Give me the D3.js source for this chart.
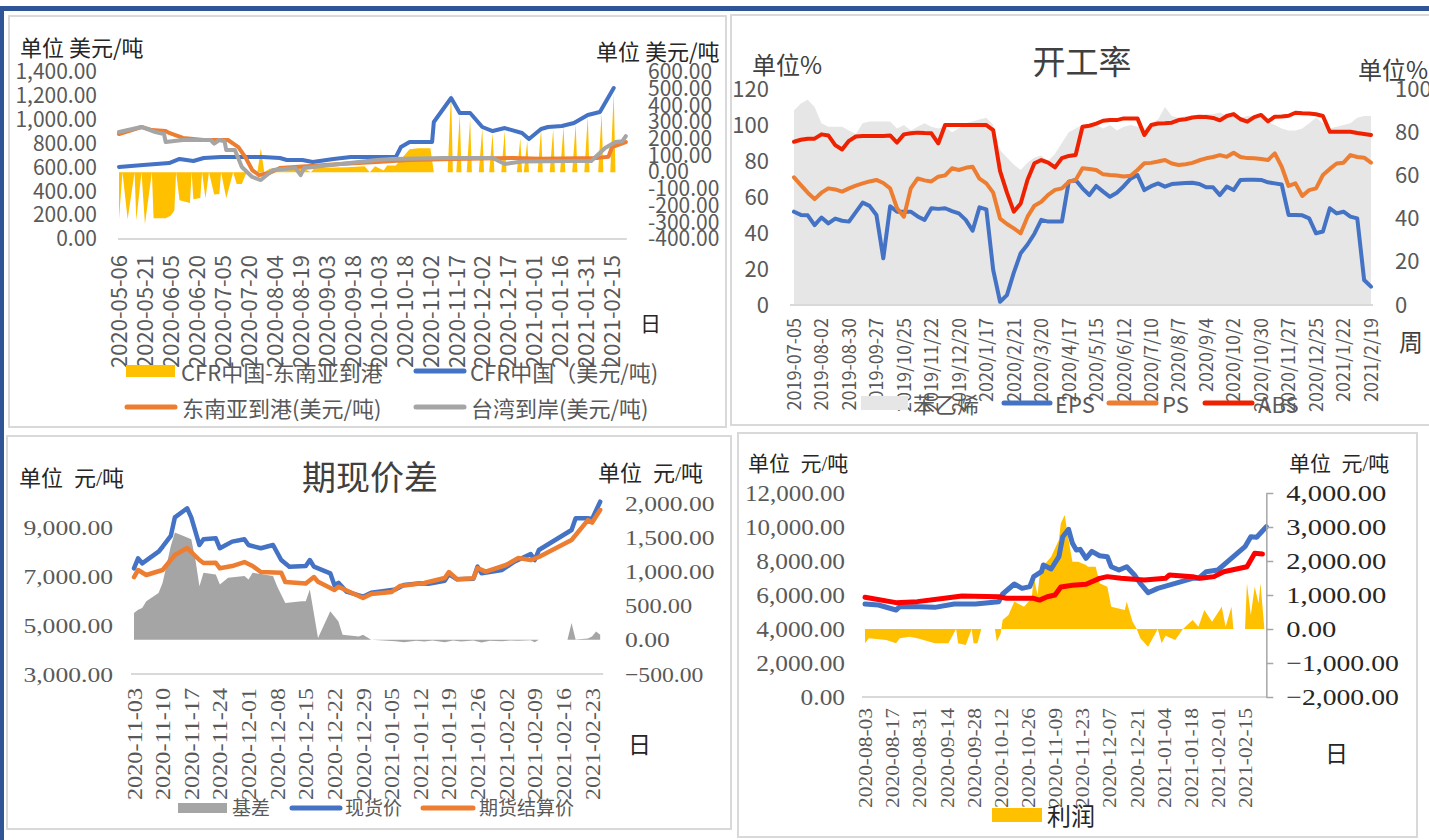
<!DOCTYPE html>
<html lang="zh">
<head>
<meta charset="utf-8">
<title>苯乙烯市场</title>
<script src="https://cdn.jsdelivr.net/npm/d3@7/dist/d3.min.js"></script>
<style>
  html, body { margin: 0; background: #fff; }
  svg { display: block; }
</style>
</head>
<body>
<svg id="chart" width="1429" height="840"></svg>
<script>
// ---------- panel 1: 美元价格 ----------
const usdTickDates = ["2020-05-06","2020-05-21","2020-06-05","2020-06-20","2020-07-05","2020-07-20","2020-08-04","2020-08-19","2020-09-03","2020-09-18","2020-10-03","2020-10-18","2020-11-02","2020-11-17","2020-12-02","2020-12-17","2021-01-01","2021-01-16","2021-01-31","2021-02-15"];
const usdLeftTicks = [0, 200, 400, 600, 800, 1000, 1200, 1400];
const usdRightTicks = [-400, -300, -200, -100, 0, 100, 200, 300, 400, 500, 600];

const cfrChina = [["2020-05-06",604],["2020-05-20",620],["2020-06-04",637],["2020-06-10",671],["2020-06-18",654],["2020-06-24",679],["2020-07-04",687],["2020-07-14",687],["2020-07-28",687],["2020-08-07",679],["2020-08-11",662],["2020-08-20",662],["2020-08-26",645],["2020-09-07",671],["2020-09-17",687],["2020-10-02",687],["2020-10-13",687],["2020-10-16",771],["2020-10-21",813],["2020-11-03",813],["2020-11-04",981],["2020-11-14",1182],["2020-11-19",1056],["2020-11-25",1056],["2020-12-02",939],["2020-12-08",905],["2020-12-15",930],["2020-12-25",889],["2020-12-29",838],["2021-01-05",922],["2021-01-09",939],["2021-01-17",947],["2021-01-24",972],["2021-02-01",1039],["2021-02-08",1065],["2021-02-16",1266]];
const seaPort = [["2020-05-06",880],["2020-05-19",939],["2020-05-25",913],["2020-06-02",905],["2020-06-04",889],["2020-06-12",847],["2020-06-24",830],["2020-07-08",830],["2020-07-14",771],["2020-07-18",687],["2020-07-22",578],["2020-07-26",536],["2020-08-01",553],["2020-08-07",595],["2020-09-11",629],["2020-10-02",645],["2020-10-21",662],["2020-11-15",670],["2020-12-20",680],["2021-01-05",672],["2021-02-07",680],["2021-02-13",690],["2021-02-15",771],["2021-02-23",813]];
const taiwanCif = [["2020-05-06",897],["2020-05-19",939],["2020-05-27",897],["2020-06-01",880],["2020-06-02",813],["2020-06-12",830],["2020-06-28",830],["2020-06-30",800],["2020-07-03",830],["2020-07-06",820],["2020-07-07",746],["2020-07-12",746],["2020-07-16",604],["2020-07-22",520],["2020-07-27",494],["2020-08-03",578],["2020-08-16",595],["2020-08-19",536],["2020-08-21",595],["2020-09-11",629],["2020-10-02",662],["2020-10-11",670],["2020-11-10",679],["2020-12-08",679],["2020-12-15",629],["2020-12-25",650],["2021-01-20",654],["2021-02-03",654],["2021-02-11",763],["2021-02-17",813],["2021-02-21",820],["2021-02-23",863]];
const cfrSpread = [["2020-05-06",-281],["2020-05-08",0],["2020-05-11",-281],["2020-05-15",0],["2020-05-16",-288],["2020-05-19",0],["2020-05-21",-311],["2020-05-25",0],["2020-05-26",-275],["2020-06-02",-275],["2020-06-05",-260],["2020-06-07",-230],["2020-06-08",0],["2020-06-10",-168],["2020-06-16",-184],["2020-06-17",0],["2020-06-18",-162],["2020-06-22",-154],["2020-06-23",0],["2020-06-25",-158],["2020-06-27",0],["2020-06-30",-134],["2020-07-03",-130],["2020-07-04",0],["2020-07-07",-156],["2020-07-11",0],["2020-07-13",-70],["2020-07-16",-70],["2020-07-18",-20],["2020-07-19",0],
  ["2020-07-25",0],["2020-07-27",144],["2020-07-29",0],["2020-08-01",20],["2020-08-10",30],["2020-08-20",25],["2020-08-25",0],["2020-08-27",25],["2020-09-15",30],["2020-09-25",35],["2020-09-28",0],["2020-10-01",35],["2020-10-06",10],["2020-10-08",40],["2020-10-13",40],["2020-10-16",78],["2020-10-21",138],["2020-10-26",144],["2020-11-02",144],["2020-11-04",0],
  ["2020-11-12",0],["2020-11-14",485],["2020-11-15",0],["2020-11-17",0],["2020-11-19",347],["2020-11-20",0],["2020-11-23",0],["2020-11-25",317],["2020-11-26",0],["2020-11-30",0],["2020-12-02",263],["2020-12-03",0],["2020-12-06",0],["2020-12-08",234],["2020-12-09",0],["2020-12-13",0],["2020-12-15",246],["2020-12-16",0],["2020-12-22",0],["2020-12-24",204],["2020-12-25",0],["2020-12-26",0],["2020-12-28",186],["2020-12-29",0],["2021-01-03",0],["2021-01-05",257],["2021-01-06",0],["2021-01-10",0],["2021-01-12",257],["2021-01-13",0],["2021-01-16",0],["2021-01-18",275],["2021-01-19",0],["2021-01-23",0],["2021-01-25",287],["2021-01-26",0],["2021-01-30",0],["2021-02-01",335],["2021-02-02",0],["2021-02-07",0],["2021-02-09",353],["2021-02-10",0],["2021-02-14",0],["2021-02-16",473],["2021-02-17",0]];

// ---------- panel 2: 开工率 (weekly) ----------
const rateTickLabels = ["2019-07-05","2019-08-02","2019-08-30","2019-09-27","2019/10/25","2019/11/22","2019/12/20","2020/1/17","2020/2/21","2020/3/20","2020/4/17","2020/5/15","2020/6/12","2020/7/10","2020/8/7","2020/9/4","2020/10/2","2020/10/30","2020/11/27","2020/12/25","2021/1/22","2021/2/19"];
const rateLeftTicks = [0, 20, 40, 60, 80, 100, 120];
const rateRightTicks = [0, 20, 40, 60, 80, 100];
const styreneRate = [108,112,114,110,101,99,99,99,97,95, 101,102,102,102,102,98,100,97,99,101, 99,98,99,96,98,101,102,103,104,100, 86,82,78,75,79,82,83,80,84,90, 96,98,100,99,100,98,100,97,99,100, 99,98,101,103,110,105,104,105,104,105, 106,106,107,105,106,104,105,105,104,102, 100,98,97,97,98,101,104,101,98,99, 100,101,104,105,105];
const epsRate = [43.2,41.7,41.5,37,40.5,37.8,40,39,38.6,43, 47.4,45.9,41.7,21.6,45.7,43.2,43.2,43.2,41,39.4, 44.8,44.5,44.8,43.5,42.4,39.4,34.4,45.2,44.3,16.2, 1.5,4.6,15,24,28,33,39.4,38.6,38.6,38.6, 57.1,57.9,54,50.9,55.1,52.5,50.1,52,55,58.5, 60.2,53.2,55,56.3,54.8,56,56.3,56.5,56.6,56, 54.5,54.5,50.9,54.8,53.2,57.9,58,58,57.9,56.8, 56.3,55.8,41.7,41.7,41.5,40.1,33.2,34,44.8,42.4, 43.2,40.9,40.1,11.6,8.5];
const psRate = [59.1,55.5,52,49,52,54,53.5,52.5,54,55.3, 56.3,57.2,57.9,56.5,54,44.8,40.9,54,58.6,57.7, 57.2,59.4,60,63.3,62.5,63.5,64,58.5,56.3,52, 40,37.5,35.5,33.2,40.9,46,47.8,51,53.3,54, 57,57.9,63.3,63,62.5,60.5,60.2,60,59.5,59.8, 62.5,65.6,65.8,66.4,67.1,65.5,64.8,65.2,65.8,67, 67.9,68.5,69.4,68.6,70.5,68.5,68,67.9,67.6,67.1, 70.2,64,55.1,56.3,50.5,53.2,54,60.2,63,65.5, 65.9,69.4,68.5,68.2,65.9];
const absRate = [75.6,76.5,77,77,79,78.5,74,72,76,78, 78.2,78.2,78.2,78.2,78.5,75.2,79,79.5,79.8,79.6, 79.5,74.8,83.3,83.3,83.3,83.3,83.3,83.3,83.3,81, 62,52,43.2,47,58,65.6,67.1,65.9,63.7,68, 69,69.4,82.5,83,84,85.3,85.6,85.6,86.4,86.4, 86.4,78.7,83.3,84,84.1,84.4,85.6,86,86.8,87.2, 87,86.6,85.5,87.5,88.4,86,84.9,87,88,85, 87.2,87.3,87.6,89,88.8,88.7,88.3,87.5,80.2,80.2, 80.2,80.2,79.6,79.2,78.7];

// ---------- panel 3: 期现价差 ----------
const basisTickDates = ["2020-11-03","2020-11-10","2020-11-17","2020-11-24","2020-12-01","2020-12-08","2020-12-15","2020-12-22","2020-12-29","2021-01-05","2021-01-12","2021-01-19","2021-01-26","2021-02-02","2021-02-09","2021-02-16","2021-02-23"];
const basisLeftTicks = [3000, 5000, 7000, 9000];
const basisRightTicks = [-500, 0, 500, 1000, 1500, 2000];
const spotPrice = [["2020-11-03",7327],["2020-11-04",7736],["2020-11-05",7532],["2020-11-09",8006],["2020-11-10",8211],["2020-11-12",8650],["2020-11-13",9414],["2020-11-16",9783],["2020-11-17",9414],["2020-11-19",8280],["2020-11-20",8514],["2020-11-23",8555],["2020-11-24",8146],["2020-11-27",8418],["2020-11-30",8514],["2020-12-01",8280],["2020-12-04",8146],["2020-12-07",8280],["2020-12-09",7666],["2020-12-11",7393],["2020-12-15",7420],["2020-12-16",7666],["2020-12-17",7393],["2020-12-21",7120],["2020-12-22",6643],["2020-12-23",6730],["2020-12-25",6370],["2020-12-29",6165],["2020-12-31",6330],["2021-01-06",6465],["2021-01-08",6643],["2021-01-12",6711],["2021-01-14",6690],["2021-01-18",6820],["2021-01-19",7093],["2021-01-21",6875],["2021-01-25",6900],["2021-01-26",7393],["2021-01-27",7120],["2021-02-01",7257],["2021-02-04",7597],["2021-02-08",7912],["2021-02-09",7666],["2021-02-10",8075],["2021-02-18",8894],["2021-02-19",9373],["2021-02-22",9373],["2021-02-23",9340],["2021-02-25",10053]];
const futuresPrice = [["2020-11-03",6970],["2020-11-04",7257],["2020-11-06",7052],["2020-11-10",7257],["2020-11-11",7462],["2020-11-13",7871],["2020-11-16",8157],["2020-11-19",7666],["2020-11-20",7543],["2020-11-23",7556],["2020-11-24",7327],["2020-11-27",7420],["2020-11-30",7584],["2020-12-02",7420],["2020-12-04",7175],["2020-12-09",7147],["2020-12-10",6766],["2020-12-15",6700],["2020-12-17",6970],["2020-12-18",6779],["2020-12-22",6438],["2020-12-23",6575],["2020-12-29",6111],["2020-12-31",6275],["2021-01-05",6357],["2021-01-07",6602],["2021-01-11",6684],["2021-01-13",6725],["2021-01-18",6930],["2021-01-19",7175],["2021-01-21",6880],["2021-01-25",6916],["2021-01-26",7339],["2021-01-28",7191],["2021-02-02",7462],["2021-02-05",7748],["2021-02-08",7666],["2021-02-10",7790],["2021-02-18",8485],["2021-02-22",9300],["2021-02-23",9195],["2021-02-25",9713]];
const basis = [["2020-11-03",392],["2020-11-04",441],["2020-11-05",466],["2020-11-06",564],["2020-11-09",686],["2020-11-10",833],["2020-11-12",1372],["2020-11-13",1569],["2020-11-16",1495],["2020-11-17",1470],["2020-11-18",1176],["2020-11-19",784],["2020-11-20",980],["2020-11-23",956],["2020-11-24",809],["2020-11-26",907],["2020-11-30",931],["2020-12-01",882],["2020-12-02",980],["2020-12-07",931],["2020-12-08",784],["2020-12-10",539],["2020-12-14",564],["2020-12-15",564],["2020-12-16",735],["2020-12-18",25],["2020-12-21",416],["2020-12-23",269],["2020-12-24",74],["2020-12-28",49],["2020-12-29",74],["2020-12-31",0],["2021-01-04",-15],["2021-01-06",-20],["2021-01-08",-35],["2021-01-11",-15],["2021-01-13",-25],["2021-01-15",-10],["2021-01-18",-35],["2021-01-20",-10],["2021-01-22",-25],["2021-01-25",-10],["2021-01-27",-40],["2021-01-29",-15],["2021-02-01",-20],["2021-02-03",-10],["2021-02-05",-15],["2021-02-08",-5],["2021-02-09",-35],["2021-02-10",0],["2021-02-17",0],["2021-02-18",245],["2021-02-19",5],["2021-02-22",20],["2021-02-23",49],["2021-02-24",123],["2021-02-25",74]];

// ---------- panel 4: 利润 ----------
const profitTickDates = ["2020-08-03","2020-08-17","2020-08-31","2020-09-14","2020-09-28","2020-10-12","2020-10-26","2020-11-09","2020-11-23","2020-12-07","2020-12-21","2021-01-04","2021-01-18","2021-02-01","2021-02-15"];
const profitLeftTicks = [0, 2000, 4000, 6000, 8000, 10000, 12000];
const profitRightTicks = [-2000, -1000, 0, 1000, 2000, 3000, 4000];
const productPrice = [["2020-08-03",5470],["2020-08-10",5412],["2020-08-19",5117],["2020-08-21",5314],["2020-08-31",5314],["2020-09-08",5274],["2020-09-18",5470],["2020-09-29",5470],["2020-10-11",5606],["2020-10-13",6059],["2020-10-19",6647],["2020-10-23",6391],["2020-10-27",6490],["2020-10-29",7076],["2020-11-02",7370],["2020-11-03",7764],["2020-11-07",7529],["2020-11-11",8253],["2020-11-13",9430],["2020-11-16",9864],["2020-11-18",9040],["2020-11-20",8645],["2020-11-22",8684],["2020-11-25",8160],["2020-11-28",8566],["2020-12-02",8311],["2020-12-06",8253],["2020-12-08",7664],["2020-12-12",7468],["2020-12-16",7664],["2020-12-20",7176],["2020-12-23",6686],["2020-12-27",6137],["2021-01-01",6391],["2021-01-10",6686],["2021-01-19",6980],["2021-01-22",6980],["2021-01-26",7370],["2021-02-01",7470],["2021-02-06",7960],["2021-02-15",8842],["2021-02-18",9430],["2021-02-21",9400],["2021-02-26",10017]];
const costPrice = [["2020-08-03",5864],["2020-08-19",5550],["2020-08-30",5610],["2020-09-13",5805],["2020-09-22",5940],["2020-10-11",5900],["2020-10-15",5805],["2020-10-29",5805],["2020-11-01",5700],["2020-11-05",5900],["2020-11-09",6000],["2020-11-12",6470],["2020-11-18",6570],["2020-11-25",6630],["2020-12-02",6980],["2020-12-06",7080],["2020-12-13",6980],["2020-12-25",6880],["2021-01-05",6980],["2021-01-07",7175],["2021-01-19",7080],["2021-01-23",6980],["2021-01-30",7080],["2021-02-04",7370],["2021-02-16",7664],["2021-02-20",8450],["2021-02-24",8410]];
const profit = [["2020-08-03",-421],["2020-08-05",-275],["2020-08-14",-323],["2020-08-19",-421],["2020-08-21",-275],["2020-08-26",-225],["2020-08-30",-275],["2020-09-08",-421],["2020-09-15",-421],["2020-09-19",0],["2020-09-20",-421],["2020-09-24",-470],["2020-09-27",0],["2020-09-28",-421],["2020-09-30",-421],["2020-10-02",0],["2020-10-09",0],["2020-10-10",-373],["2020-10-12",-129],["2020-10-13",265],["2020-10-16",412],["2020-10-19",804],["2020-10-24",657],["2020-10-28",902],["2020-10-29",1539],["2020-10-31",1000],["2020-11-01",1539],["2020-11-02",1784],["2020-11-07",2127],["2020-11-11",2617],["2020-11-12",3108],["2020-11-14",3353],["2020-11-16",2617],["2020-11-18",1980],["2020-11-21",1980],["2020-11-25",1882],["2020-11-26",1833],["2020-11-30",1833],["2020-12-02",1343],["2020-12-06",1245],["2020-12-08",657],["2020-12-15",559],["2020-12-16",804],["2020-12-19",216],["2020-12-21",20],["2020-12-23",-275],["2020-12-27",-520],["2021-01-01",0],["2021-01-03",-421],["2021-01-05",-200],["2021-01-10",-323],["2021-01-14",0],["2021-01-19",265],["2021-01-22",69],["2021-01-25",559],["2021-01-29",216],["2021-02-03",657],["2021-02-05",69],["2021-02-08",657],["2021-02-09",0],["2021-02-15",0],["2021-02-16",1343],["2021-02-18",412],["2021-02-20",1245],["2021-02-22",755],["2021-02-23",1343],["2021-02-25",0]];

// ---------- helpers ----------
const svg = d3.select('#chart');
const parse = d3.timeParse('%Y-%m-%d');
const pts = arr => arr.map(([d, v]) => ({ date: parse(d), v }));
const SANS = '"Noto Sans CJK SC", "Noto Sans", sans-serif';
const SERIF = '"Liberation Serif", "Noto Sans CJK SC", serif';
const TICK = '#595959';
const fmtDate = d3.timeFormat('%Y-%m-%d');
const fmtUsd = d3.formatLocale({ decimal: '.', thousands: ',', grouping: [3], currency: ['', ''], minus: '-' }).format(',.2f');
const fmtCny = d3.format(',.2f');

function cleanAxis(g, size, family, color) {
  g.select('.domain').remove();
  g.attr('font-size', size).attr('font-family', family);
  g.selectAll('text').attr('fill', color);
}
function rotateLabels(g) {
  g.selectAll('text').attr('transform', 'rotate(-90)').attr('text-anchor', 'end')
    .attr('x', 0).attr('y', 0).attr('dy', '0.35em');
}
function fitChars(g, perChar) {
  g.selectAll('text').each(function () {
    const t = d3.select(this);
    t.attr('textLength', t.text().length * perChar).attr('lengthAdjust', 'spacingAndGlyphs');
  });
}
function yAxis(gen, scale, ticks, fmt, xPos, size, family) {
  return svg.append('g').attr('transform', `translate(${xPos},0)`)
    .call(gen(scale).tickValues(ticks).tickFormat(fmt).tickSize(0).tickPadding(0))
    .call(cleanAxis, size, family, TICK);
}
function xAxis(scale, ticks, fmt, yPos, size, family) {
  return svg.append('g').attr('transform', `translate(0,${yPos})`)
    .call(d3.axisBottom(scale).tickValues(ticks).tickFormat(fmt).tickSize(0))
    .call(cleanAxis, size, family, TICK).call(rotateLabels);
}
function text(x, y, str, size, family, color, anchor) {
  return svg.append('text').attr('x', x).attr('y', y).attr('font-size', size)
    .attr('font-family', family).attr('fill', color).attr('text-anchor', anchor || 'start')
    .attr('dominant-baseline', 'central').style('white-space', 'pre').text(str);
}
function frame(x, y, w, h) {
  svg.append('rect').attr('x', x).attr('y', y).attr('width', w).attr('height', h)
    .attr('fill', 'none').attr('stroke', '#D9D9D9').attr('stroke-width', 2);
}
function swatchLine(x1, x2, y, color, w) {
  svg.append('line').attr('x1', x1).attr('x2', x2).attr('y1', y).attr('y2', y)
    .attr('stroke', color).attr('stroke-width', w).attr('stroke-linecap', 'round');
}
function swatchRect(x, y, w, h, color) {
  svg.append('rect').attr('x', x).attr('y', y).attr('width', w).attr('height', h).attr('fill', color);
}
function drawLine(data, x, y, color, w) {
  svg.append('path').datum(data).attr('fill', 'none').attr('stroke', color)
    .attr('stroke-width', w).attr('stroke-linejoin', 'round').attr('stroke-linecap', 'round')
    .attr('d', d3.line().x(d => x(d.date)).y(d => y(d.v)));
}
function drawArea(data, x, y, color) {
  svg.append('path').datum(data).attr('fill', color)
    .attr('d', d3.area().x(d => x(d.date)).y0(y(0)).y1(d => y(d.v)));
}

// page decoration
frame(9, 16, 717, 411);
frame(731, 15, 702, 410);
frame(7, 436, 724, 393);
frame(738, 433, 679, 404);
svg.append('rect').attr('x', 0).attr('y', 6).attr('width', 1429).attr('height', 5).attr('fill', '#2F5597');
svg.append('rect').attr('x', 0).attr('y', 6).attr('width', 4).attr('height', 834).attr('fill', '#2F5597');

// ================= panel 1 =================
{
  const blue = pts(cfrChina), orange = pts(seaPort), gray = pts(taiwanCif), spread = pts(cfrSpread);
  const x = d3.scaleTime().domain([parse(usdTickDates[0]), parse(usdTickDates[usdTickDates.length - 1])]).range([119, 612]);
  const yL = d3.scaleLinear().domain([0, 1400]).range([239, 72]);
  const yR = d3.scaleLinear().domain([-400, 600]).range([239, 72]);
  const end = d3.max([...orange, ...gray], d => d.date);

  svg.append('line').attr('x1', x.range()[0] - 1).attr('x2', x(end) + 1).attr('y1', yL(0)).attr('y2', yL(0))
    .attr('stroke', '#D9D9D9').attr('stroke-width', 2);
  drawArea(spread, x, yR, '#FFC000');
  drawLine(blue, x, yL, '#4472C4', 4);
  drawLine(orange, x, yL, '#ED7D31', 4);
  drawLine(gray, x, yL, '#A5A5A5', 4);

  yAxis(d3.axisLeft, yL, usdLeftTicks, fmtUsd, 97, 21, SANS);
  yAxis(d3.axisRight, yR, usdRightTicks, fmtUsd, 648, 21, SANS);
  xAxis(x, usdTickDates.map(parse), fmtDate, 255, 22, SANS);

  text(20, 46, '单位 美元/吨', 22, SANS, '#262626');
  text(596, 50, '单位 美元/吨', 22, SANS, '#262626');
  text(640, 322, '日', 21, SANS, '#262626');

  swatchRect(126, 365, 49, 12, '#FFC000');
  text(181, 371, 'CFR中国-东南亚到港', 22, SANS, TICK);
  swatchLine(416, 464, 371, '#4472C4', 5);
  text(470, 371, 'CFR中国（美元/吨)', 22, SANS, TICK);
  swatchLine(127, 175, 407, '#ED7D31', 5);
  text(182, 407, '东南亚到港(美元/吨)', 22, SANS, TICK);
  swatchLine(416, 464, 407, '#A5A5A5', 5);
  text(471, 407, '台湾到岸(美元/吨)', 22, SANS, TICK);
}

// ================= panel 2 =================
{
  const n = styreneRate.length;
  const x = d3.scaleLinear().domain([0, n - 1]).range([794, 1371]);
  const yL = d3.scaleLinear().domain([0, 120]).range([305, 89]);
  const yR = d3.scaleLinear().domain([0, 100]).range([305, 89]);
  const idx = d3.range(n);

  svg.append('path').datum(idx).attr('fill', '#E6E6E6')
    .attr('d', d3.area().x(i => x(i)).y0(yL(0)).y1(i => yL(styreneRate[i])));
  svg.append('line').attr('x1', x(0) - 4).attr('x2', x(n - 1) + 2).attr('y1', yL(0)).attr('y2', yL(0))
    .attr('stroke', '#D9D9D9').attr('stroke-width', 2);
  [[epsRate, '#4472C4'], [psRate, '#ED7D31'], [absRate, '#EE2200']].forEach(([vals, color]) => {
    svg.append('path').datum(idx).attr('fill', 'none').attr('stroke', color).attr('stroke-width', 4)
      .attr('stroke-linejoin', 'round').attr('stroke-linecap', 'round')
      .attr('d', d3.line().x(i => x(i)).y(i => yR(vals[i])));
  });

  yAxis(d3.axisLeft, yL, rateLeftTicks, d3.format('d'), 769, 22, SANS);
  yAxis(d3.axisRight, yR, rateRightTicks, d3.format('d'), 1395, 22, SANS);
  xAxis(x, d3.range(0, n, 4), i => rateTickLabels[i / 4], 318, 18, SANS);

  text(1082, 60, '开工率', 33, SANS, '#404040', 'middle');
  text(752, 63, '单位%', 24, SANS, '#404040');
  text(1358, 68, '单位%', 24, SANS, '#404040');
  text(1399, 340, '周', 24, SANS, '#404040');

  swatchRect(861, 396, 47, 14, '#E6E6E6');
  text(913, 403, '苯乙烯', 22, SANS, TICK);
  swatchLine(1004, 1050, 403, '#4472C4', 5);
  text(1055, 403, 'EPS', 22, SANS, TICK);
  swatchLine(1109, 1156, 403, '#ED7D31', 5);
  text(1162, 403, 'PS', 22, SANS, TICK);
  swatchLine(1205, 1252, 403, '#EE2200', 5);
  text(1258, 403, 'ABS', 22, SANS, TICK);
}

// ================= panel 3 =================
{
  const spot = pts(spotPrice), fut = pts(futuresPrice), bas = pts(basis);
  const x = d3.scaleTime().domain([parse(basisTickDates[0]), parse(basisTickDates[basisTickDates.length - 1])]).range([134, 592]);
  const yL = d3.scaleLinear().domain([3000, 10000]).range([674, 503]);
  const yR = d3.scaleLinear().domain([-500, 2000]).range([674, 503]);
  const end = d3.max(spot, d => d.date);

  drawArea(bas, x, yR, '#A5A5A5');
  svg.append('line').attr('x1', x.range()[0] - 3).attr('x2', x(end) + 3).attr('y1', yL(3000)).attr('y2', yL(3000))
    .attr('stroke', '#D9D9D9').attr('stroke-width', 2);
  drawLine(spot, x, yL, '#4472C4', 4.5);
  drawLine(fut, x, yL, '#ED7D31', 4.5);

  yAxis(d3.axisLeft, yL, basisLeftTicks, fmtCny, 113, 22, SERIF).call(fitChars, 11.2);
  yAxis(d3.axisRight, yR, basisRightTicks, fmtCny, 625, 22, SERIF).call(fitChars, 11.2);
  xAxis(x, basisTickDates.map(parse), fmtDate, 688, 20, SERIF).call(fitChars, 11.2);

  text(370, 478, '期现价差', 34, SERIF, '#404040', 'middle');
  text(19, 478, '单位\u2002元/吨', 22, SERIF, '#262626');
  text(598, 473, '单位\u2002元/吨', 22, SERIF, '#262626');
  text(628, 745, '日', 23, SERIF, '#262626');

  swatchRect(178, 803, 49, 10, '#A5A5A5');
  text(232, 808, '基差', 19, SERIF, TICK);
  swatchLine(292, 340, 808, '#4472C4', 5);
  text(345, 808, '现货价', 19, SERIF, TICK);
  swatchLine(423, 473, 808, '#ED7D31', 5);
  text(479, 808, '期货结算价', 19, SERIF, TICK);
}

// ================= panel 4 =================
{
  const price = pts(productPrice), cost = pts(costPrice), prof = pts(profit);
  const x = d3.scaleTime().domain([parse(profitTickDates[0]), parse(profitTickDates[profitTickDates.length - 1])]).range([865, 1245]);
  const yL = d3.scaleLinear().domain([0, 12000]).range([697, 493]);
  const yR = d3.scaleLinear().domain([-2000, 4000]).range([697, 493]);
  const end = d3.max(price, d => d.date);

  drawArea(prof, x, yR, '#FFC000');
  svg.append('line').attr('x1', x.range()[0] - 3).attr('x2', x(end)).attr('y1', yL(0)).attr('y2', yL(0))
    .attr('stroke', '#D9D9D9').attr('stroke-width', 2);
  drawLine(price, x, yL, '#4472C4', 5);
  drawLine(cost, x, yL, '#FF0000', 5);

  yAxis(d3.axisLeft, yL, profitLeftTicks, fmtCny, 845, 23, SERIF).call(fitChars, 11.1);
  svg.append('g').attr('transform', `translate(${x(end)},0)`).attr('color', '#A6A6A6')
    .call(d3.axisRight(yR).tickValues(profitRightTicks).tickFormat(fmtCny).tickSize(7).tickSizeOuter(0).tickPadding(13))
    .call(g => g.attr('font-size', 24).attr('font-family', SERIF))
    .call(g => g.selectAll('path,line').attr('stroke-width', 1.5))
    .call(g => g.selectAll('text').attr('fill', '#262626'))
    .call(fitChars, 12.5);
  xAxis(x, profitTickDates.map(parse), fmtDate, 708, 19, SERIF).call(fitChars, 10);

  text(748, 464, '单位\u2002元/吨', 21, SERIF, '#262626');
  text(1289, 464, '单位\u2002元/吨', 21, SERIF, '#262626');
  text(1325, 754, '日', 23, SERIF, '#262626');

  swatchRect(992, 808, 50, 14, '#FFC000');
  text(1047, 817, '利润', 24, SERIF, '#262626');
}
</script>
</body>
</html>
